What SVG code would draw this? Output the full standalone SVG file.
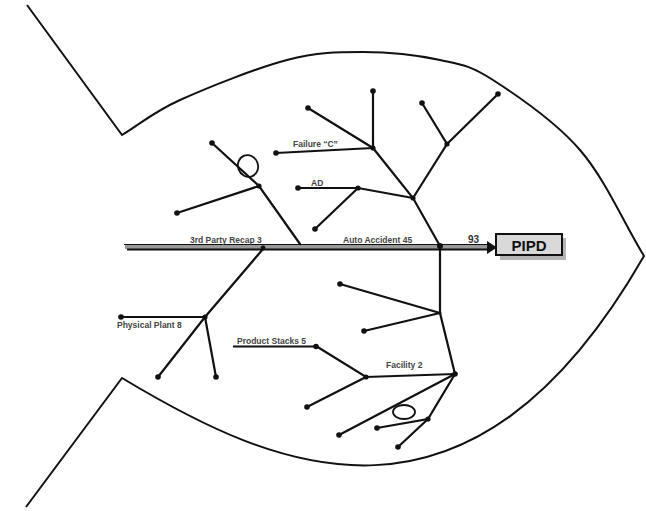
<svg xmlns="http://www.w3.org/2000/svg" width="646" height="511" viewBox="0 0 646 511">
  <style>
    .outline { fill: none; stroke: #111; stroke-width: 2; stroke-linejoin: miter; }
    .bone { fill: none; stroke: #111; stroke-width: 2.2; stroke-linecap: round; }
    .dot { fill: #111; }
    .lbl { font-family: "Liberation Sans", Arial, sans-serif; font-size: 8.5px; font-weight: bold; fill: #444; }
    .loop { fill: none; stroke: #111; stroke-width: 1.8; }
  </style>
  <rect width="646" height="511" fill="#fff"/>

  <!-- fish body and tail -->
  <g id="fish-outline">
    <path class="outline" d="M27,5 L122,135
      C141.3,123.3 152.5,112.5 180,100
      C207.5,87.5 256.5,68 287,60
      C317.5,52 337.5,52 363,52
      C388.5,52 418.3,55.3 440,60
      C461.7,64.7 469.7,65 493,80
      C516.3,95 554.8,120.7 580,150
      C605.2,179.3 622.7,220.7 644,256
      C470,559 275,470 122,378 L26,507"/>
  </g>

  <!-- main spine with arrow into the head -->
  <g id="spine">
    <rect x="125" y="245" width="364" height="4" fill="#999"/>
    <line x1="124" y1="244.5" x2="489" y2="244.5" stroke="#111" stroke-width="1.2"/>
    <line x1="127" y1="249.5" x2="489" y2="249.5" stroke="#111" stroke-width="2"/>
    <polygon points="487,241 497,247.5 487,254" fill="#111"/>
  </g>

  <!-- head: effect box -->
  <g id="node-pipd">
    <rect x="500" y="238" width="66" height="22" fill="#b5b5b5"/>
    <rect x="496" y="234" width="66" height="21" fill="#d9d9d9" stroke="#111" stroke-width="2"/>
    <text x="529" y="251" text-anchor="middle" font-family="Liberation Sans, Arial, sans-serif" font-size="15" font-weight="bold" fill="#111">PIPD</text>
  </g>

  <g id="connectors">
    <!-- Auto Accident 45: upper cluster -->
    <polyline class="bone" points="440,246 413,198 373,148 373,91"/>
    <line class="bone" x1="373" y1="148" x2="308" y2="108"/>
    <line class="bone" x1="373" y1="148" x2="276" y2="153"/>
    <polyline class="bone" points="413,198 447,144 422,103"/>
    <line class="bone" x1="447" y1="144" x2="498" y2="94"/>
    <polyline class="bone" points="413,198 358,188 298,188"/>
    <line class="bone" x1="358" y1="188" x2="315" y2="229"/>

    <!-- Auto Accident 45: lower cluster -->
    <polyline class="bone" points="440,246 440,313 455,374"/>
    <line class="bone" x1="440" y1="313" x2="340" y2="284"/>
    <line class="bone" x1="440" y1="313" x2="364" y2="331"/>
    <polyline class="bone" points="455,374 366,377 316,346"/>
    <line x1="316" y1="346.5" x2="233" y2="346.5" stroke="#111" stroke-width="2"/>
    <line class="bone" x1="366" y1="377" x2="307" y2="407"/>
    <line class="bone" x1="455" y1="374" x2="339" y2="435"/>
    <polyline class="bone" points="455,374 428,419 377,428"/>
    <line class="bone" x1="428" y1="419" x2="398" y2="447"/>

    <!-- 3rd Party Recap 3 -->
    <polyline class="bone" points="300,244 259,186 212,143"/>
    <line class="bone" x1="259" y1="186" x2="177" y2="213"/>

    <!-- Physical Plant 8 -->
    <polyline class="bone" points="263,249 205,317 158,377"/>
    <line class="bone" x1="205" y1="317" x2="121" y2="317"/>
    <line class="bone" x1="205" y1="317" x2="216" y2="377"/>
  </g>

  <!-- branch end points and junctions -->
  <g id="node-dots">
    <circle class="dot" cx="440" cy="246" r="3"/>
    <circle class="dot" cx="413" cy="198" r="2.6"/>
    <circle class="dot" cx="373" cy="148" r="2.6"/>
    <circle class="dot" cx="373" cy="91" r="2.8"/>
    <circle class="dot" cx="308" cy="108" r="2.8"/>
    <circle class="dot" cx="276" cy="153" r="2.8"/>
    <circle class="dot" cx="447" cy="144" r="2.6"/>
    <circle class="dot" cx="422" cy="103" r="2.8"/>
    <circle class="dot" cx="498" cy="94" r="2.8"/>
    <circle class="dot" cx="358" cy="188" r="2.6"/>
    <circle class="dot" cx="298" cy="188" r="2.8"/>
    <circle class="dot" cx="315" cy="229" r="2.8"/>
    <circle class="dot" cx="440" cy="313" r="1.5"/>
    <circle class="dot" cx="340" cy="284" r="2.8"/>
    <circle class="dot" cx="364" cy="331" r="2.8"/>
    <circle class="dot" cx="455" cy="374" r="2.8"/>
    <circle class="dot" cx="366" cy="377" r="2.6"/>
    <circle class="dot" cx="316" cy="346.5" r="2.8"/>
    <circle class="dot" cx="307" cy="407" r="2.8"/>
    <circle class="dot" cx="339" cy="435" r="2.8"/>
    <circle class="dot" cx="428" cy="419" r="2.6"/>
    <circle class="dot" cx="377" cy="428" r="2.8"/>
    <circle class="dot" cx="398" cy="447" r="2.8"/>
    <circle class="dot" cx="259" cy="186" r="2.6"/>
    <circle class="dot" cx="212" cy="143" r="2.8"/>
    <circle class="dot" cx="177" cy="213" r="2.8"/>
    <circle class="dot" cx="263" cy="248" r="2.4"/>
    <circle class="dot" cx="205" cy="317" r="2.6"/>
    <circle class="dot" cx="121" cy="317" r="2.8"/>
    <circle class="dot" cx="158" cy="377" r="2.8"/>
    <circle class="dot" cx="216" cy="377" r="2.8"/>
  </g>

  <!-- circled causes -->
  <g id="node-loops">
    <ellipse class="loop" cx="248" cy="166" rx="10" ry="11" transform="rotate(-20 248 166)"/>
    <ellipse class="loop" cx="404" cy="412" rx="11" ry="7"/>
  </g>

  <!-- category and cause labels -->
  <g id="node-labels">
    <text class="lbl" x="190" y="243">3rd Party Recap  3</text>
    <text class="lbl" x="343" y="243">Auto Accident 45</text>
    <text x="468" y="243" font-family="Liberation Sans, Arial, sans-serif" font-size="10" font-weight="bold" fill="#333">93</text>
    <text class="lbl" x="293" y="147">Failure “C”</text>
    <text class="lbl" x="311" y="186">AD</text>
    <text class="lbl" x="117" y="328">Physical Plant 8</text>
    <text class="lbl" x="237" y="344">Product Stacks  5</text>
    <text class="lbl" x="386" y="368">Facility 2</text>
  </g>
</svg>
